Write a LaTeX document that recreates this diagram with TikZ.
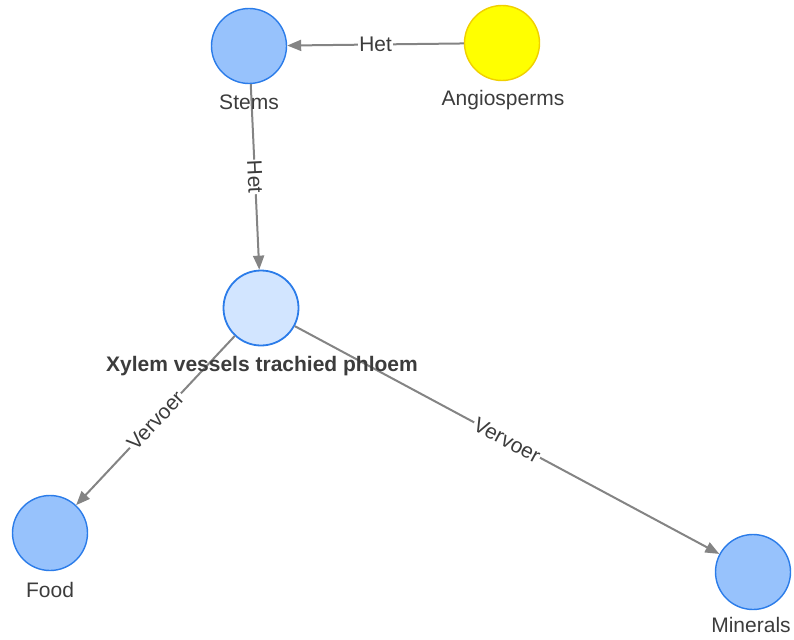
\documentclass[tikz,border=0pt]{standalone}
\usepackage{fontspec}
\setmainfont{Liberation Sans}
\usetikzlibrary{arrows.meta}
\definecolor{nodeblue}{HTML}{97C2FC}
\definecolor{nodelight}{HTML}{D2E5FF}
\definecolor{nodeborder}{HTML}{2B7CE9}
\definecolor{nodeyellow}{HTML}{FFFF00}
\definecolor{yellowborder}{HTML}{F0D000}
\definecolor{edgegray}{HTML}{848484}
\definecolor{textgray}{HTML}{3C3C3C}
\tikzset{
  dot/.style={circle, minimum size=75pt, inner sep=0pt, line width=1.4pt,
    draw=nodeborder, fill=nodeblue},
  dotlight/.style={dot, fill=nodelight, line width=1.8pt},
  dotyellow/.style={dot, fill=nodeyellow, draw=yellowborder},
  caption/.style={anchor=base, inner sep=0pt, text=textgray,
    font=\fontsize{21}{25}\selectfont},
  link/.style={draw=edgegray, line width=2pt,
    -{Triangle[length=14pt,width=11pt]}},
  linklabel/.style={midway, sloped, fill=white, inner sep=1pt, text=textgray,
    font=\fontsize{21}{25}\selectfont}
}
\begin{document}
\begin{tikzpicture}[x=1pt, y=-1pt]
  \useasboundingbox (0,0) rectangle (794,639);
  % circles
  \node[dot]       (stems)   at (249,46)  {};
  \node[dotyellow] (angio)   at (502,43)  {};
  \node[dotlight]  (xylem)   at (261,308) {};
  \node[dot]       (food)    at (50,533)  {};
  \node[dot]       (minerals) at (753,572) {};
  % connectors
  \draw[link] (angio) -- node[linklabel] (het1) {Het} (stems);
  \draw[link] (stems) -- node[linklabel] (het2) {Het} (xylem);
  \draw[link] (xylem) -- node[linklabel] (vervoer1) {Vervoer} (food);
  \draw[link] (xylem) -- node[linklabel] (vervoer2) {Vervoer} (minerals);
  % captions
  \node[caption] (stemsT)    at (249,110) {Stems};
  \node[caption] (angioT)    at (503,106) {Angiosperms};
  \node[caption, font=\fontsize{21}{25}\selectfont\bfseries] (xylemT) at (262,371) {Xylem vessels trachied phloem};
  \node[caption] (foodT)     at (50,597)  {Food};
  \node[caption] (mineralsT) at (751,632) {Minerals};
\end{tikzpicture}
\end{document}
